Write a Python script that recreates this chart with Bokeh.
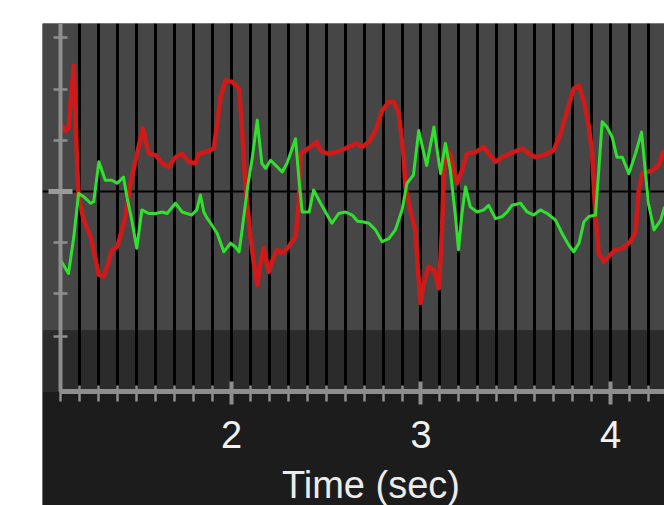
from bokeh.plotting import figure
from bokeh.models import (LinearAxis, FixedTicker, SingleIntervalTicker, Range1d,
                          BoxAnnotation, CustomJSTickFormatter)
from bokeh.embed import file_html
from bokeh.resources import INLINE

# ---- data ----
red_t = [1.098, 1.124, 1.14, 1.168, 1.185, 1.193, 1.22, 1.256, 1.30, 1.326, 1.35, 1.369,
         1.396, 1.41, 1.44, 1.467, 1.49, 1.532, 1.563, 1.60, 1.634, 1.669, 1.704, 1.74,
         1.774, 1.81, 1.827, 1.863, 1.907, 1.942, 1.968, 2.004, 2.04, 2.056, 2.074, 2.10,
         2.118, 2.136, 2.153, 2.17, 2.197, 2.223, 2.241, 2.268, 2.302, 2.338, 2.355, 2.364,
         2.39, 2.426, 2.45, 2.468, 2.505, 2.557, 2.60, 2.637, 2.66, 2.69, 2.725, 2.76,
         2.795, 2.83, 2.857, 2.883, 2.909, 2.918, 2.943, 2.969, 2.997, 3.014, 3.04, 3.068,
         3.094, 3.111, 3.12, 3.129, 3.155, 3.19, 3.216, 3.242, 3.288, 3.331, 3.357, 3.393,
         3.428, 3.455, 3.49, 3.534, 3.569, 3.604, 3.648, 3.70, 3.736, 3.771, 3.806, 3.834,
         3.86, 3.886, 3.903, 3.921, 3.938, 3.965, 3.991, 4.026, 4.062, 4.105, 4.132, 4.149,
         4.167, 4.22, 4.255, 4.28]
red_v = [1.32, 1.19, 1.23, 2.46, 0.55, -0.10, -0.56, -0.88, -1.63, -1.66, -1.40, -1.14,
         -1.08, -0.91, -0.49, 0.16, 0.55, 1.23, 0.74, 0.71, 0.55, 0.48, 0.67, 0.74,
         0.58, 0.55, 0.74, 0.77, 0.84, 1.84, 2.17, 2.14, 2.01, 1.19, 0.09, -0.88,
         -1.40, -1.83, -1.40, -1.11, -1.57, -1.27, -1.14, -1.21, -1.08, -0.88, -0.23, 0.74,
         0.80, 0.90, 0.97, 0.80, 0.74, 0.77, 0.84, 0.90, 0.94, 0.87, 0.97, 1.19,
         1.58, 1.75, 1.75, 1.52, 0.67, 0.09, -0.36, -0.75, -2.18, -1.79, -1.47, -1.53,
         -1.89, -0.75, 0.28, 0.87, 0.71, 0.16, 0.41, 0.74, 0.77, 0.87, 0.74, 0.58,
         0.67, 0.72, 0.77, 0.84, 0.74, 0.67, 0.71, 0.80, 1.13, 1.58, 2.01, 2.07,
         1.75, 1.26, 0.74, -0.49, -1.21, -1.37, -1.27, -1.14, -1.11, -0.98, -0.79, 0.03,
         0.35, 0.41, 0.51, 0.80]

green_t = [1.098, 1.14, 1.168, 1.193, 1.22, 1.256, 1.273, 1.30, 1.334, 1.369, 1.396, 1.43,
           1.448, 1.474, 1.50, 1.527, 1.563, 1.60, 1.634, 1.66, 1.704, 1.74, 1.79, 1.817,
           1.836, 1.854, 1.868, 1.89, 1.925, 1.96, 1.995, 2.02, 2.04, 2.056, 2.083, 2.11,
           2.136, 2.16, 2.18, 2.206, 2.241, 2.268, 2.293, 2.338, 2.355, 2.373, 2.41, 2.433,
           2.47, 2.505, 2.53, 2.566, 2.60, 2.637, 2.665, 2.69, 2.725, 2.76, 2.795, 2.83,
           2.865, 2.90, 2.926, 2.96, 2.988, 3.03, 3.068, 3.103, 3.129, 3.155, 3.182, 3.198,
           3.216, 3.235, 3.26, 3.296, 3.331, 3.357, 3.393, 3.428, 3.455, 3.48, 3.525, 3.56,
           3.595, 3.63, 3.666, 3.71, 3.745, 3.78, 3.806, 3.834, 3.86, 3.886, 3.921, 3.938,
           3.956, 3.982, 4.009, 4.034, 4.062, 4.097, 4.132, 4.164, 4.185, 4.2, 4.23, 4.265,
           4.285]
green_v = [-1.34, -1.60, -0.88, -0.04, -0.10, -0.23, -0.20, 0.58, 0.22, 0.22, 0.16, 0.28,
           -0.10, -0.56, -1.11, -0.36, -0.43, -0.43, -0.40, -0.43, -0.23, -0.40, -0.46, -0.36,
           -0.07, -0.40, -0.50, -0.62, -0.82, -1.18, -1.01, -1.08, -1.18, -0.75, 0.03, 0.67,
           1.39, 0.55, 0.45, 0.61, 0.48, 0.38, 0.55, 1.03, 0.28, -0.40, -0.40, 0.03,
           -0.23, -0.46, -0.62, -0.43, -0.40, -0.46, -0.58, -0.59, -0.62, -0.75, -0.98, -0.92,
           -0.75, -0.36, 0.16, 0.32, 1.19, 0.51, 1.26, 0.35, 0.94, 0.41, -0.49, -1.14,
           -0.43, 0.09, -0.30, -0.40, -0.36, -0.27, -0.53, -0.49, -0.40, -0.27, -0.23, -0.40,
           -0.46, -0.36, -0.43, -0.56, -0.82, -1.05, -1.18, -1.01, -0.59, -0.49, -0.46, 0.41,
           1.36, 1.26, 1.06, 0.67, 0.67, 0.35, 0.74, 1.16, 0.35, -0.23, -0.75, -0.56,
           -0.30]

y_tick_values = [3, 2, 1, -1, -2, -2.83]
y_zero_tick = [0]
y_axis_at = 1.1
x_axis_at = -3.916
x_axis_extent = (1.1, 5.0)
x_title_extent = (1.187, 5.0)
lower_band_top = -2.715
x_title = "Time (sec)"

FONT = "Liberation Sans"
AXIS_GREY = "#8e8e8e"
OUTER = "#1c1c1c"

p = figure(width=622, height=482, output_backend="svg", toolbar_location=None,
           x_range=Range1d(1.0026, 4.285), y_range=Range1d(-6.133, 3.281),
           y_axis_location=None,
           min_border_left=0, min_border_right=0, min_border_top=0, min_border_bottom=0,
           background_fill_color=OUTER, border_fill_color=OUTER,
           outline_line_color=None, margin=(23, 0, 0, 42))

# plotting-area bands (under the grid)
p.add_layout(BoxAnnotation(bottom=lower_band_top, fill_color="#464646", fill_alpha=1,
                           line_color=None, level="image"))
p.add_layout(BoxAnnotation(top=lower_band_top, bottom=x_axis_at, fill_color="#2b2b2b",
                           fill_alpha=1, line_color=None, level="image"))

# x axis / vertical black grid
xax = p.xaxis[0]
xax.fixed_location = x_axis_at
xax.ticker = SingleIntervalTicker(interval=1, num_minor_ticks=10)
xax.bounds = x_axis_extent
xax.axis_line_color = AXIS_GREY
xax.axis_line_width = 5
xax.major_tick_line_color = AXIS_GREY
xax.major_tick_line_width = 4
xax.major_tick_in = 10
xax.major_tick_out = 13
xax.minor_tick_line_color = AXIS_GREY
xax.minor_tick_line_width = 2.5
xax.minor_tick_in = 6
xax.minor_tick_out = 10
xax.major_label_text_font = FONT
xax.major_label_text_font_size = "38px"
xax.major_label_text_color = "#f2f2f2"
xax.major_label_standoff = 16

# axis title carried by a bare axis whose extent centres it like the original
tax = LinearAxis(fixed_location=x_axis_at, ticker=FixedTicker(ticks=[]),
                 bounds=x_title_extent, axis_line_color=None,
                 major_tick_line_color=None, minor_tick_line_color=None,
                 major_tick_in=0, major_tick_out=0, minor_tick_in=0, minor_tick_out=0,
                 major_label_standoff=0,
                 axis_label=x_title, axis_label_text_font=FONT,
                 axis_label_text_font_size="38px", axis_label_text_font_style="normal",
                 axis_label_text_color="#ececec", axis_label_standoff=72)
p.add_layout(tax, "below")

p.xgrid.grid_line_color = "black"
p.xgrid.grid_line_width = 3
p.xgrid.minor_grid_line_color = "black"
p.xgrid.minor_grid_line_width = 3

p.ygrid.ticker = FixedTicker(ticks=y_zero_tick)
p.ygrid.grid_line_color = "black"
p.ygrid.grid_line_width = 2

# area below the x axis: outer colour, drawn over the grid lines
p.add_layout(BoxAnnotation(top=x_axis_at, fill_color=OUTER, fill_alpha=1,
                           line_color=None, level="underlay"))

blank = CustomJSTickFormatter(code="return ''")

yax = LinearAxis(fixed_location=y_axis_at, ticker=FixedTicker(ticks=y_tick_values),
                 formatter=blank, bounds=(x_axis_at, 10),
                 axis_line_color=AXIS_GREY, axis_line_width=4,
                 major_tick_line_color=AXIS_GREY, major_tick_line_width=2.5,
                 major_tick_in=7, major_tick_out=7, minor_tick_line_color=None)
p.add_layout(yax, "left")

zax = LinearAxis(fixed_location=y_axis_at, ticker=FixedTicker(ticks=y_zero_tick),
                 formatter=blank, axis_line_color=None,
                 major_tick_line_color="#9a9a9a", major_tick_line_width=5,
                 major_tick_in=12, major_tick_out=12, minor_tick_line_color=None)
p.add_layout(zax, "left")

p.line(red_t, red_v, line_color="#d01a1a", line_width=4.5, line_join="round")
p.line(green_t, green_v, line_color="#2fe02f", line_width=3, line_join="round")

open("out.html", "w").write(file_html(p, INLINE))
